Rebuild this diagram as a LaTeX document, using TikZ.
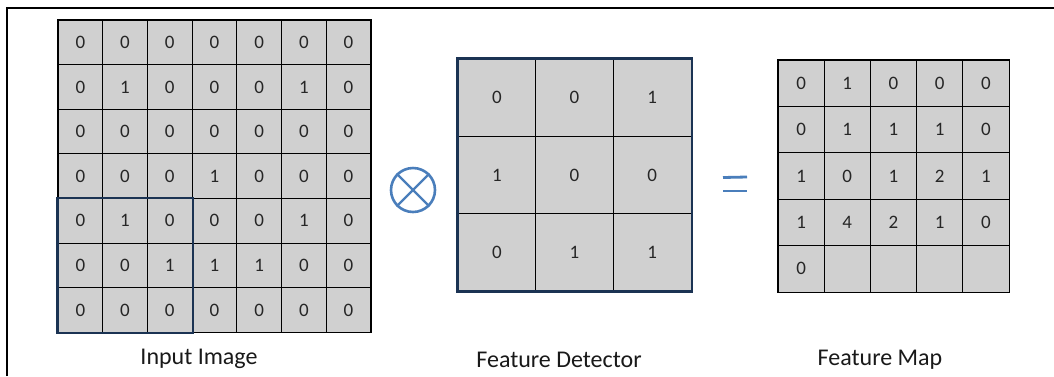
\documentclass[tikz,border=0pt]{standalone}
\usepackage{fontspec}
\setmainfont{Carlito}
\definecolor{cellgray}{HTML}{D0D0D0}
\definecolor{symblue}{HTML}{4A7EBB}
\definecolor{navy}{HTML}{1B3353}
\begin{document}
\begin{tikzpicture}[x=1pt,y=-1pt,
  cell/.style={draw=black, fill=cellgray, line width=1pt, inner sep=0pt,
    text=black!85, font=\fontsize{19}{19}\selectfont},
  incell/.style={cell, minimum width=44.7pt, minimum height=44.6pt},
  fdcell/.style={cell, minimum width=77.7pt, minimum height=77.3pt},
  fmcell/.style={cell, minimum width=46.2pt, minimum height=46.4pt},
  lbl/.style={font=\fontsize{24}{24}\selectfont, inner sep=0pt, text=black!90},
  hilite/.style={draw=navy, line width=2.2pt},
  symbol/.style={draw=symblue, line width=2.6pt}]
\useasboundingbox (0,0) rectangle (1054,376);
\fill[white] (0,0) rectangle (1054,376);
\coordinate (frameTL) at (7,8);
\coordinate (frameTR) at (1054,8);
\coordinate (frameBL) at (7,376);
\draw[line width=1.5pt] (frameBL) -- (frameTL) -- (frameTR);
% input image
\foreach \row [count=\r] in {{0,0,0,0,0,0,0},{0,1,0,0,0,1,0},{0,0,0,0,0,0,0},{0,0,0,1,0,0,0},{0,1,0,0,0,1,0},{0,0,1,1,1,0,0},{0,0,0,0,0,0,0}}{
  \foreach \v [count=\c] in \row {
    \node[incell] (in-\r-\c) at ({58+44.7*(\c-0.5)},{20+44.6*(\r-0.5)}) {\v};
  }
}
\draw[line width=1.3pt] (in-1-1.north west) rectangle (in-7-7.south east);
\draw[hilite] (in-5-1.north west) rectangle (in-7-3.south east);
\node[lbl] (inlabel) at (199,359) {Input Image};
% operator
\node[symbol, circle, minimum size=44pt, inner sep=0pt] (otimes) at (413,190) {};
\draw[symbol, line width=2.4pt] (otimes.north west) -- (otimes.south east);
\draw[symbol, line width=2.4pt] (otimes.north east) -- (otimes.south west);
% feature detector
\foreach \row [count=\r] in {{0,0,1},{1,0,0},{0,1,1}}{
  \foreach \v [count=\c] in \row {
    \node[fdcell] (fd-\r-\c) at ({458+77.7*(\c-0.5)},{59+77.3*(\r-0.5)}) {\raisebox{-4pt}{\v}};
  }
}
\draw[draw=navy, line width=2.2pt] (fd-1-1.north west) rectangle (fd-3-3.south east);
\node[lbl] (fdlabel) at (559,360) {Feature Detector};
% equals
\coordinate (eqA1) at (723,177.5);
\coordinate (eqA2) at (747,177);
\coordinate (eqB1) at (723,191);
\coordinate (eqB2) at (747,191);
\draw[symbol, line width=2.8pt] (eqA1) -- (eqA2);
\draw[symbol, line width=2.8pt] (eqB1) -- (eqB2);
% feature map
\foreach \row [count=\r] in {{0,1,0,0,0},{0,1,1,1,0},{1,0,1,2,1},{1,4,2,1,0},{0,{},{},{},{}}}{
  \foreach \v [count=\c] in \row {
    \node[fmcell] (fm-\r-\c) at ({778+46.2*(\c-0.5)},{60+46.4*(\r-0.5)}) {\v};
  }
}
\draw[line width=1.3pt] (fm-1-1.north west) rectangle (fm-5-5.south east);
\node[lbl] (fmlabel) at (880,360) {Feature Map};
\end{tikzpicture}
\end{document}
